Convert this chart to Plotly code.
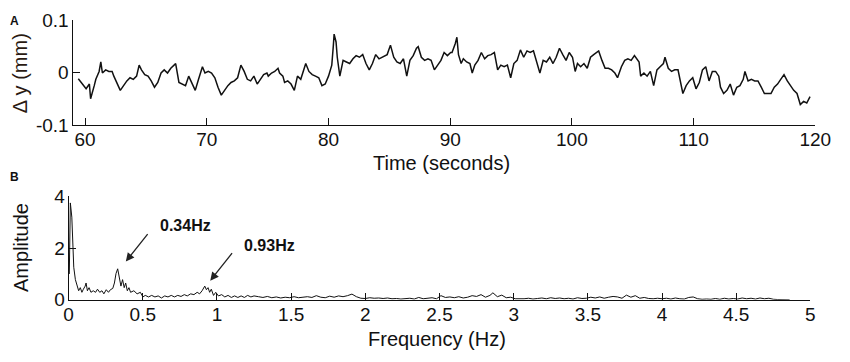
import plotly.graph_objects as go

# ---------------- Panel A: displacement vs time ----------------
time_s = [59.44, 59.82, 60.08, 60.35, 60.45, 60.75, 60.88, 61.15, 61.29, 61.42, 61.69, 61.95,
          62.22, 62.36, 62.62, 62.89, 63.16, 63.43, 63.69, 63.96, 64.23, 64.44, 64.63, 64.90,
          65.17, 65.43, 65.70, 65.97, 66.24, 66.50, 66.77, 67.04, 67.31, 67.44, 67.71, 67.98,
          68.25, 68.51, 68.78, 69.05, 69.32, 69.64, 69.85, 70.12, 70.39, 70.66, 70.92, 71.19,
          71.46, 71.73, 71.99, 72.26, 72.53, 72.80, 73.07, 73.33, 73.60, 73.87, 74.14, 74.40,
          74.67, 74.94, 75.05, 75.32, 75.58, 75.85, 75.98, 76.25, 76.39, 76.65, 76.92, 77.19,
          77.45, 77.72, 77.99, 78.13, 78.39, 78.66, 78.93, 79.20, 79.46, 79.73, 80.00, 80.27,
          80.40, 80.46, 80.62, 80.72, 80.93, 81.20, 81.47, 81.74, 82.01, 82.27, 82.54, 82.81,
          83.08, 83.35, 83.61, 83.88, 84.15, 84.42, 84.82, 85.09, 85.36, 85.62, 85.89, 86.16,
          86.43, 86.69, 86.96, 87.23, 87.37, 87.63, 87.90, 88.17, 88.43, 88.70, 88.97, 89.24,
          89.50, 89.77, 90.04, 90.15, 90.42, 90.55, 90.68, 90.90, 91.08, 91.35, 91.62, 91.81,
          92.02, 92.29, 92.56, 92.83, 93.09, 93.36, 93.63, 93.90, 94.16, 94.43, 94.70, 94.97,
          95.23, 95.50, 95.77, 96.04, 96.31, 96.57, 96.84, 97.11, 97.37, 97.64, 97.91, 98.18,
          98.45, 98.71, 98.98, 99.25, 99.52, 99.78, 100.05, 100.27, 100.46, 100.72, 100.99, 101.26,
          101.53, 101.79, 102.20, 102.47, 102.73, 103.00, 103.27, 103.53, 103.75, 104.07, 104.34, 104.60,
          104.87, 105.14, 105.25, 105.52, 105.65, 105.92, 106.18, 106.45, 106.72, 106.99, 107.25, 107.52,
          107.65, 107.92, 108.19, 108.45, 108.72, 108.99, 109.12, 109.39, 109.66, 109.93, 110.20, 110.47,
          110.73, 111.00, 111.27, 111.54, 111.81, 112.07, 112.21, 112.47, 112.74, 113.01, 113.28, 113.55,
          113.81, 114.08, 114.22, 114.48, 114.75, 115.02, 115.29, 115.56, 115.82, 116.09, 116.36, 116.63,
          116.90, 117.16, 117.43, 117.70, 117.97, 118.23, 118.50, 118.77, 119.04, 119.30, 119.57]

delta_y_mm = [-0.012, -0.022, -0.031, -0.022, -0.050, -0.025, -0.013, 0.002, 0.020, -0.001, 0.005, 0.002,
              0.002, -0.007, -0.022, -0.034, -0.025, -0.016, -0.010, -0.013, -0.007, 0.014, 0.005, -0.004,
              -0.007, -0.016, -0.028, -0.019, -0.001, 0.005, -0.001, 0.008, 0.014, 0.017, -0.019, -0.022,
              -0.025, -0.007, -0.022, -0.034, -0.013, 0.011, -0.001, 0.002, -0.001, -0.010, -0.028, -0.043,
              -0.034, -0.025, -0.019, -0.016, -0.010, 0.014, 0.002, -0.013, -0.016, -0.007, -0.022, -0.013,
              -0.004, -0.001, -0.007, -0.001, 0.002, 0.008, -0.001, -0.007, -0.019, -0.016, -0.022, -0.034,
              -0.007, -0.013, 0.008, 0.017, 0.002, -0.004, -0.007, -0.010, -0.025, -0.022, -0.007, 0.014,
              0.052, 0.073, 0.058, 0.029, -0.007, 0.023, 0.020, 0.017, 0.026, 0.032, 0.029, 0.034,
              0.017, 0.005, 0.017, 0.034, 0.026, 0.029, 0.034, 0.052, 0.029, 0.020, 0.017, 0.026,
              -0.007, 0.023, 0.032, 0.046, 0.049, 0.029, 0.023, 0.026, 0.023, 0.005, 0.014, 0.023,
              0.038, 0.032, 0.038, 0.038, 0.055, 0.067, 0.034, 0.017, 0.026, 0.020, 0.017, -0.001,
              0.014, 0.023, 0.038, 0.026, 0.032, 0.034, 0.038, 0.005, 0.014, 0.011, 0.014, -0.010,
              0.017, 0.023, 0.043, 0.029, 0.041, 0.038, 0.041, 0.017, -0.001, 0.023, 0.020, 0.029,
              0.017, 0.029, 0.046, 0.034, 0.023, 0.038, 0.029, 0.002, 0.017, 0.011, 0.017, 0.008,
              0.029, 0.034, 0.041, 0.023, 0.008, 0.008, 0.005, -0.001, -0.010, 0.011, 0.023, 0.026,
              0.023, 0.032, 0.029, 0.020, -0.007, -0.001, -0.007, 0.002, -0.025, 0.005, 0.011, 0.017,
              0.029, 0.008, 0.002, 0.005, 0.005, -0.022, -0.040, -0.025, -0.016, -0.010, -0.031, -0.019,
              0.005, 0.011, -0.016, 0.002, 0.002, -0.007, -0.028, -0.040, -0.034, -0.022, -0.043, -0.028,
              -0.025, -0.013, 0.002, -0.016, -0.013, -0.016, -0.016, -0.028, -0.040, -0.040, -0.040, -0.028,
              -0.022, -0.013, -0.004, -0.016, -0.025, -0.034, -0.040, -0.061, -0.055, -0.058, -0.046]

x_ticks_a = [60, 70, 80, 90, 100, 110, 120]
y_ticks_a = [-0.1, 0, 0.1]
y_ticklabels_a = ["-0.1", "0", "0.1"]

# ---------------- Panel B: amplitude spectrum ----------------
freq_hz = [0.005, 0.012, 0.022, 0.028, 0.035, 0.046, 0.057, 0.068, 0.079, 0.090, 0.100, 0.112,
           0.118, 0.127, 0.138, 0.151, 0.166, 0.182, 0.195, 0.210, 0.225, 0.238, 0.254, 0.269,
           0.282, 0.298, 0.309, 0.320, 0.331, 0.342, 0.353, 0.364, 0.375, 0.385, 0.396, 0.407,
           0.418, 0.440, 0.462, 0.484, 0.501, 0.517, 0.539, 0.560, 0.582, 0.604, 0.626, 0.648,
           0.670, 0.692, 0.714, 0.736, 0.758, 0.780, 0.800, 0.823, 0.845, 0.867, 0.883, 0.900,
           0.918, 0.929, 0.940, 0.951, 0.962, 0.977, 0.992, 1.010, 1.032, 1.053, 1.075, 1.097,
           1.119, 1.141, 1.163, 1.185, 1.207, 1.229, 1.250, 1.280, 1.310, 1.340, 1.370, 1.400,
           1.430, 1.460, 1.490, 1.520, 1.550, 1.580, 1.610, 1.640, 1.670, 1.700, 1.730, 1.760,
           1.790, 1.820, 1.850, 1.880, 1.910, 1.940, 1.970, 2.000, 2.030, 2.060, 2.090, 2.120,
           2.150, 2.180, 2.210, 2.240, 2.270, 2.300, 2.330, 2.360, 2.390, 2.420, 2.450, 2.480,
           2.510, 2.540, 2.570, 2.600, 2.630, 2.660, 2.690, 2.720, 2.750, 2.780, 2.810, 2.840,
           2.860, 2.890, 2.920, 2.950, 2.980, 3.010, 3.040, 3.070, 3.100, 3.130, 3.160, 3.190,
           3.220, 3.250, 3.280, 3.310, 3.340, 3.370, 3.400, 3.430, 3.460, 3.490, 3.520, 3.550,
           3.580, 3.610, 3.640, 3.670, 3.700, 3.730, 3.760, 3.790, 3.820, 3.850, 3.880, 3.910,
           3.940, 3.970, 4.000, 4.030, 4.060, 4.090, 4.120, 4.150, 4.180, 4.210, 4.240, 4.270,
           4.300, 4.330, 4.360, 4.390, 4.420, 4.450, 4.480, 4.510, 4.540, 4.570, 4.600, 4.630,
           4.660, 4.690, 4.720, 4.750, 4.780, 4.810, 4.840, 4.860]

amplitude = [1.00, 3.75, 3.20, 2.00, 1.26, 0.78, 0.53, 0.35, 0.47, 0.29, 0.41, 0.53,
             0.65, 0.35, 0.47, 0.29, 0.35, 0.29, 0.41, 0.29, 0.35, 0.23, 0.39, 0.29,
             0.39, 0.44, 0.65, 1.02, 1.20, 0.90, 0.53, 0.78, 0.47, 0.65, 0.35, 0.47,
             0.29, 0.35, 0.23, 0.29, 0.11, 0.17, 0.11, 0.17, 0.11, 0.15, 0.07, 0.15,
             0.11, 0.17, 0.11, 0.17, 0.13, 0.20, 0.15, 0.23, 0.20, 0.29, 0.23, 0.35,
             0.53, 0.39, 0.47, 0.29, 0.41, 0.17, 0.29, 0.15, 0.20, 0.11, 0.17, 0.09,
             0.15, 0.09, 0.15, 0.09, 0.17, 0.11, 0.15, 0.12, 0.09, 0.13, 0.08, 0.11,
             0.07, 0.10, 0.08, 0.12, 0.08, 0.10, 0.12, 0.09, 0.16, 0.10, 0.08, 0.14,
             0.10, 0.15, 0.12, 0.16, 0.22, 0.12, 0.06, 0.05, 0.08, 0.06, 0.07, 0.05,
             0.07, 0.04, 0.05, 0.03, 0.04, 0.06, 0.03, 0.09, 0.04, 0.05, 0.08, 0.04,
             0.16, 0.09, 0.11, 0.08, 0.12, 0.07, 0.10, 0.16, 0.13, 0.20, 0.10, 0.17,
             0.27, 0.12, 0.18, 0.08, 0.10, 0.04, 0.03, 0.04, 0.06, 0.03, 0.05, 0.07,
             0.04, 0.08, 0.05, 0.07, 0.04, 0.06, 0.03, 0.08, 0.05, 0.06, 0.10, 0.07,
             0.11, 0.06, 0.10, 0.13, 0.11, 0.06, 0.18, 0.10, 0.16, 0.06, 0.09, 0.05,
             0.04, 0.06, 0.04, 0.06, 0.03, 0.07, 0.04, 0.03, 0.09, 0.11, 0.04, 0.02,
             0.03, 0.02, 0.05, 0.02, 0.06, 0.03, 0.05, 0.03, 0.07, 0.04, 0.06, 0.03,
             0.07, 0.04, 0.06, 0.02, 0.01, 0.01, 0.01, 0.00]

x_ticks_b = [0, 0.5, 1, 1.5, 2, 2.5, 3, 3.5, 4, 4.5, 5]
x_ticklabels_b = ["0", "0.5", "1", "1.5", "2", "2.5", "3", "3.5", "4", "4.5", "5"]
y_ticks_b = [0, 2, 4]

peak_labels = ["0.34Hz", "0.93Hz"]

# ---------------- Figure ----------------
# The page keeps the browser's 8px body margin, so the figure is 16px smaller than the window
PAGE_MARGIN = 8
W, H = 850 - 2 * PAGE_MARGIN, 362 - 2 * PAGE_MARGIN
FONT = "Liberation Sans, Arial, sans-serif"


def px_x(p):
    # window pixel -> paper fraction
    return (p - PAGE_MARGIN) / W


def px_y(p):
    return 1 - (p - PAGE_MARGIN) / H


fig = go.Figure()
fig.add_trace(go.Scatter(x=time_s, y=delta_y_mm, mode="lines",
                         line=dict(color="#111111", width=1.5), xaxis="x", yaxis="y",
                         showlegend=False, hoverinfo="skip"))
fig.add_trace(go.Scatter(x=freq_hz, y=amplitude, mode="lines",
                         line=dict(color="#111111", width=1.0), xaxis="x2", yaxis="y2",
                         showlegend=False, hoverinfo="skip"))

axis_common = dict(showline=True, linecolor="#111111", linewidth=1, mirror=False,
                   ticks="inside", ticklen=7, tickcolor="#111111", tickwidth=1,
                   showgrid=False, zeroline=False,
                   tickfont=dict(family=FONT, size=19, color="#111111"))

fig.update_layout(
    width=W, height=H, autosize=False,
    margin=dict(l=0, r=0, t=0, b=0, pad=0),
    paper_bgcolor="white", plot_bgcolor="white",
    xaxis=dict(domain=[px_x(70), px_x(831)], range=[59.04, 120], anchor="y",
               tickvals=x_ticks_a, ticklabelstandoff=-3, **axis_common),
    yaxis=dict(domain=[px_y(122), px_y(10)], range=[-0.1, 0.1], anchor="x",
               tickvals=y_ticks_a, ticktext=y_ticklabels_a, ticklabelstandoff=0, **axis_common),
    xaxis2=dict(domain=[px_x(65), px_x(826)], range=[0, 5], anchor="y2",
                tickvals=x_ticks_b, ticktext=x_ticklabels_b, ticklabelstandoff=-3, **axis_common),
    yaxis2=dict(domain=[px_y(308), px_y(198)], range=[0, 4], anchor="x2",
                tickvals=y_ticks_b, ticklabelstandoff=-1, **axis_common),
)

ann = []
ann.append(dict(text="<b>A</b>", x=px_x(10), y=px_y(11), xref="paper", yref="paper",
                showarrow=False, font=dict(family=FONT, size=12, color="#111111"),
                xanchor="center", yanchor="middle"))
ann.append(dict(text="<b>B</b>", x=px_x(10), y=px_y(177), xref="paper", yref="paper",
                showarrow=False, font=dict(family=FONT, size=12, color="#111111"),
                xanchor="center", yanchor="middle"))
ann.append(dict(text="Δ y (mm)", x=px_x(16), y=px_y(67), xref="paper", yref="paper",
                showarrow=False, textangle=-90, font=dict(family=FONT, size=20, color="#2a1a12"),
                xanchor="center", yanchor="middle"))
ann.append(dict(text="Time (seconds)", x=px_x(448), y=px_y(162), xref="paper", yref="paper",
                showarrow=False, font=dict(family=FONT, size=20, color="#111111"),
                xanchor="center", yanchor="middle"))
ann.append(dict(text="Amplitude", x=px_x(16), y=px_y(252), xref="paper", yref="paper",
                showarrow=False, textangle=-90, font=dict(family=FONT, size=20, color="#111111"),
                xanchor="center", yanchor="middle"))
ann.append(dict(text="Frequency (Hz)", x=px_x(443), y=px_y(350), xref="paper", yref="paper",
                showarrow=False, font=dict(family=FONT, size=20, color="#111111"),
                xanchor="center", yanchor="middle"))
ann.append(dict(text="<b>" + peak_labels[0] + "</b>", x=px_x(185), y=px_y(229), xref="paper", yref="paper",
                showarrow=False, font=dict(family=FONT, size=16, color="#111111"),
                xanchor="center", yanchor="middle"))
ann.append(dict(text="<b>" + peak_labels[1] + "</b>", x=px_x(271), y=px_y(250), xref="paper", yref="paper",
                showarrow=False, font=dict(family=FONT, size=16, color="#111111"),
                xanchor="center", yanchor="middle"))
ann.append(dict(text="", x=0.386, y=1.48, xref="x2", yref="y2", showarrow=True,
                ax=23, ay=-29, arrowhead=2, arrowsize=1.3, arrowwidth=1.3, arrowcolor="#222222"))
ann.append(dict(text="", x=0.955, y=0.74, xref="x2", yref="y2", showarrow=True,
                ax=23, ay=-29, arrowhead=2, arrowsize=1.3, arrowwidth=1.3, arrowcolor="#222222"))

fig.update_layout(annotations=ann)

fig.write_html("out.html", config={"displayModeBar": False})
